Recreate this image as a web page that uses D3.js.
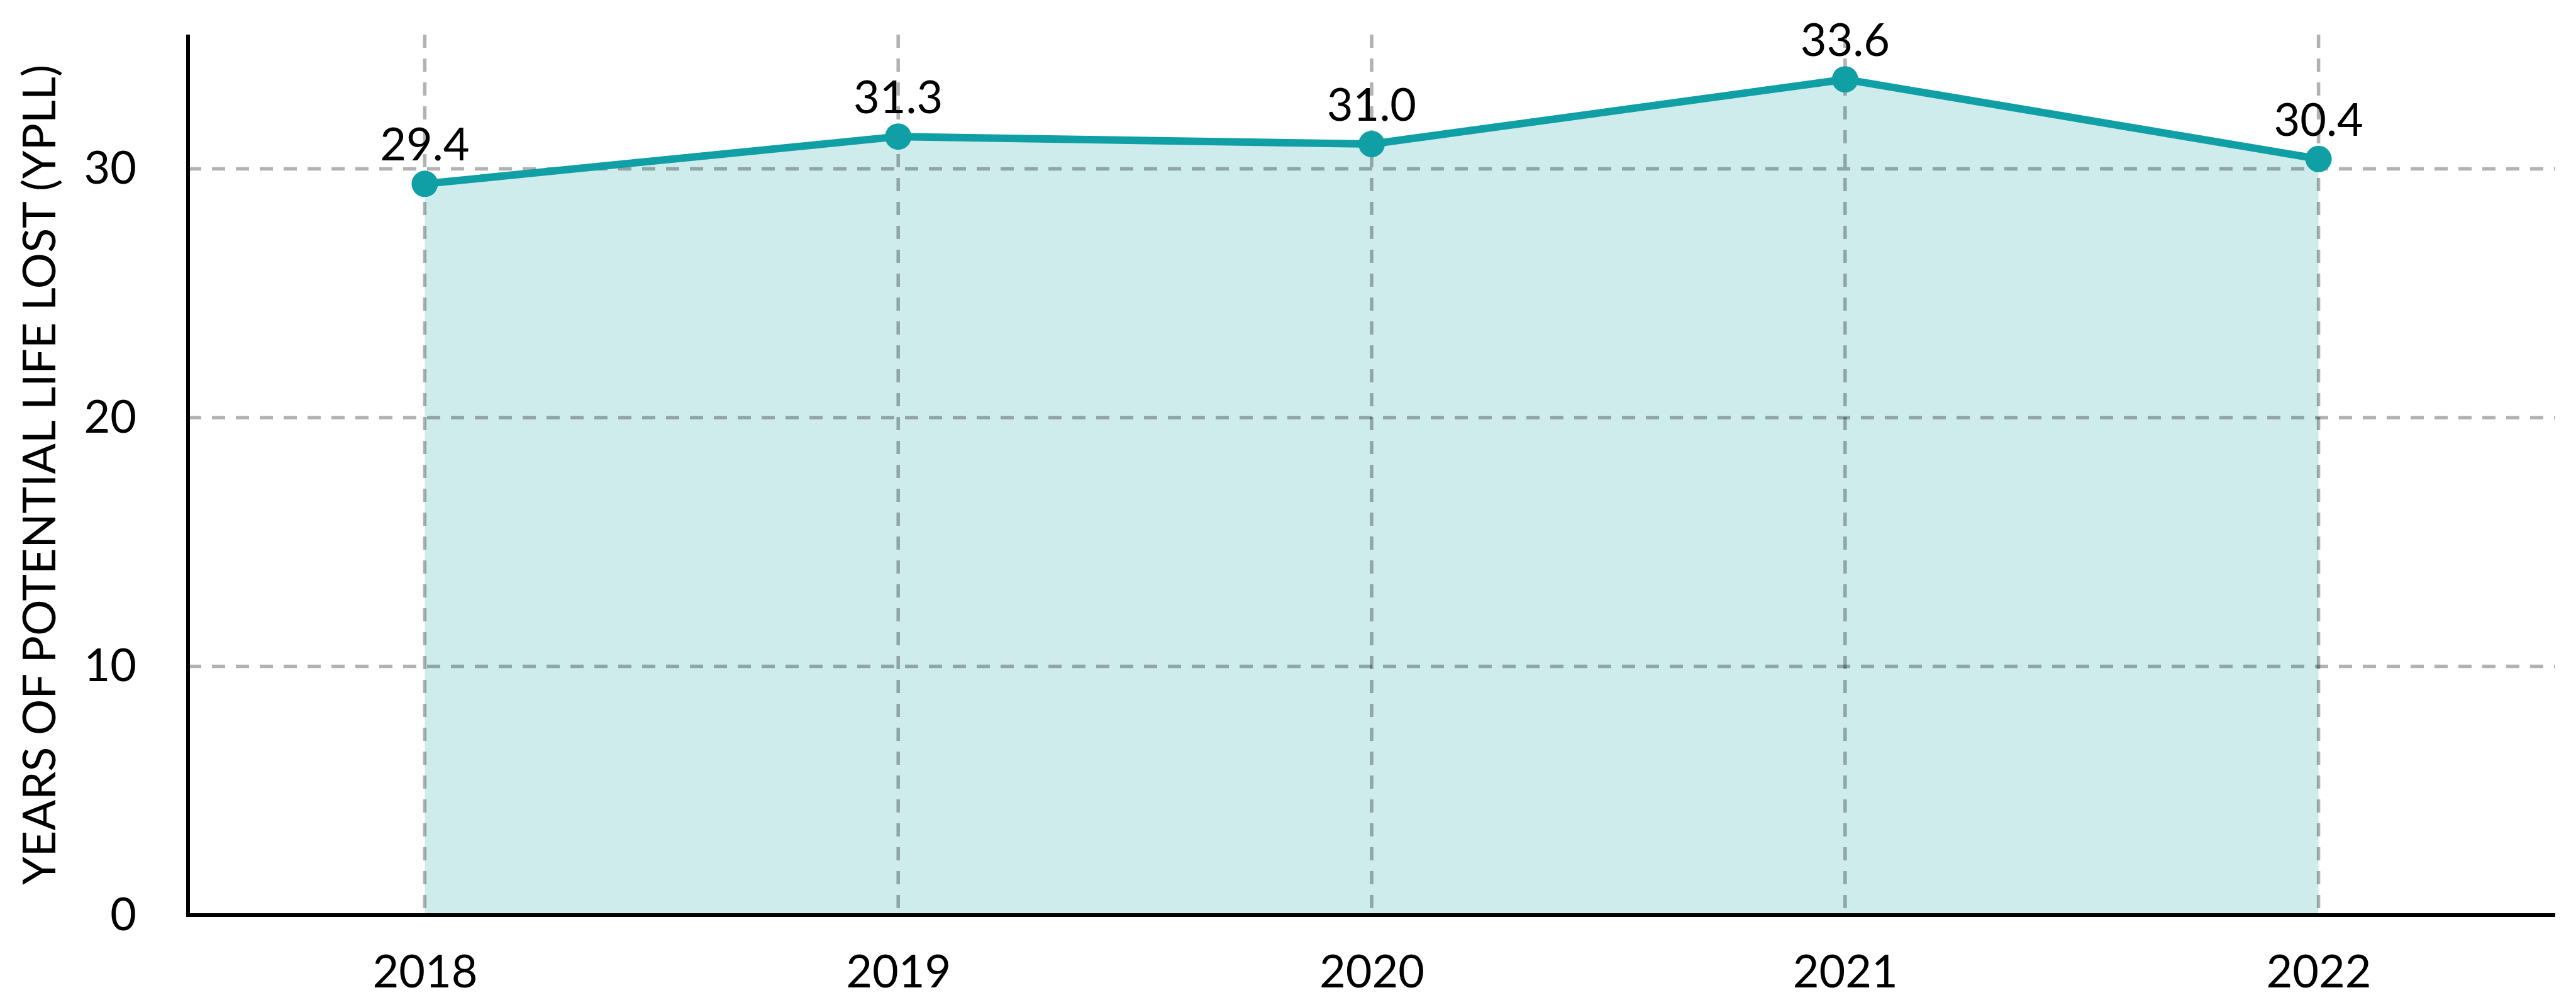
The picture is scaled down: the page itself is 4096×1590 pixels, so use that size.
<!DOCTYPE html>
<html>
<head>
<meta charset="utf-8">
<script src="https://cdn.jsdelivr.net/npm/d3@7"></script>
<style>
  body { margin: 0; background: #fff; }
  svg { display: block; }
  text { font-family: Lato, "Open Sans", sans-serif; fill: #000; }
</style>
</head>
<body>
<svg id="chart" width="4096" height="1590"></svg>
<script>
// chart data
const years = ["2018", "2019", "2020", "2021", "2022"];
const ypll = [29.4, 31.3, 31.0, 33.6, 30.4];
const yTicks = [0, 10, 20, 30];
const yTitle = "YEARS OF POTENTIAL LIFE LOST (YPLL)";

const teal = "#0f9fa4";
const fontSize = 72;

var svg = d3.select("#chart");
// plot edges (note: "top" is a reserved window property, so use other names)
var plotLeft = 299, plotRight = 4063, plotTop = 55, plotBottom = 1455;

var x = d3.scalePoint().domain(years).range([plotLeft, plotRight]).padding(0.5);
var y = d3.scaleLinear().domain([0, 35.4]).range([plotBottom, plotTop]);

var data = years.map((yr, i) => ({ year: yr, value: ypll[i] }));

// filled area under the line
var area = d3.area()
    .x(d => x(d.year))
    .y0(y(0))
    .y1(d => y(d.value));

svg.append("path")
    .datum(data)
    .attr("d", area)
    .attr("fill", teal)
    .attr("fill-opacity", 0.2);

// grid lines drawn over the fill
var grid = svg.append("g")
    .attr("stroke", "#000")
    .attr("stroke-opacity", 0.3)
    .attr("stroke-width", 5.5)
    .attr("stroke-dasharray", "21,17");

grid.selectAll(".hgrid")
    .data(yTicks.filter(d => d > 0))
    .enter().append("line")
    .attr("x1", plotLeft)
    .attr("x2", plotRight)
    .attr("y1", d => y(d))
    .attr("y2", d => y(d));

grid.selectAll(".vgrid")
    .data(years)
    .enter().append("line")
    .attr("x1", d => x(d))
    .attr("x2", d => x(d))
    .attr("y1", plotTop)
    .attr("y2", plotBottom);

// axes
var xAxis = svg.append("g")
    .attr("transform", `translate(0,${plotBottom})`)
    .call(d3.axisBottom(x).tickSize(0).tickPadding(0));
xAxis.select(".domain").attr("stroke", "#000").attr("stroke-width", 6)
    .attr("d", `M${plotLeft - 3},0H${plotRight}`);
xAxis.selectAll("text")
    .attr("font-size", fontSize)
    .attr("dy", 0)
    .attr("y", 115);

var yAxis = svg.append("g")
    .attr("transform", `translate(${plotLeft},0)`)
    .call(d3.axisLeft(y).tickValues(yTicks).tickSize(0).tickPadding(82).tickFormat(d3.format("d")));
yAxis.select(".domain").attr("stroke", "#000").attr("stroke-width", 6)
    .attr("d", `M0,${plotTop}V${plotBottom + 3}`);
yAxis.selectAll("text")
    .attr("font-size", fontSize);
svg.selectAll(".tick text").attr("font-family", "Lato, sans-serif").attr("fill", "#000");

// y axis title
svg.append("text")
    .attr("transform", `translate(60,${(plotTop + plotBottom) / 2}) rotate(-90)`)
    .attr("text-anchor", "middle")
    .attr("dominant-baseline", "central")
    .attr("font-size", fontSize)
    .text(yTitle);

// line and markers
var line = d3.line()
    .x(d => x(d.year))
    .y(d => y(d.value));

svg.append("path")
    .datum(data)
    .attr("d", line)
    .attr("fill", "none")
    .attr("stroke", teal)
    .attr("stroke-width", 12)
    .attr("stroke-linejoin", "round");

svg.selectAll(".dot")
    .data(data)
    .enter().append("circle")
    .attr("cx", d => x(d.year))
    .attr("cy", d => y(d.value))
    .attr("r", 21)
    .attr("fill", teal);

svg.selectAll(".val")
    .data(data)
    .enter().append("text")
    .attr("x", d => x(d.year))
    .attr("y", d => y(d.value) - 37)
    .attr("text-anchor", "middle")
    .attr("font-size", fontSize)
    .text(d => d.value.toFixed(1));
</script>
</body>
</html>
